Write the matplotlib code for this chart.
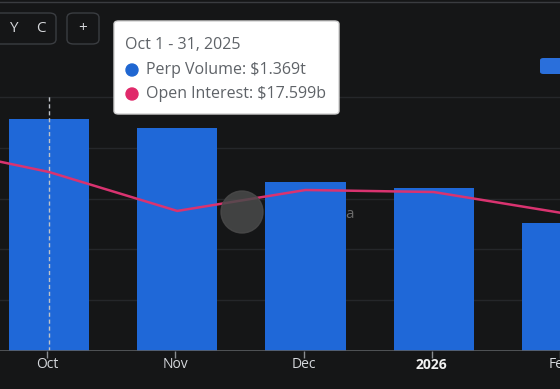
import matplotlib
matplotlib.use("Agg")
import matplotlib.pyplot as plt
import numpy as np
from matplotlib.patches import FancyBboxPatch, Ellipse

months = ["Sep", "Oct", "Nov", "Dec", "Jan", "Feb"]
perp_volume_t = [np.nan, 1.369, 1.316, 0.997, 0.962, 0.755]
open_interest_b = [20.25, 17.599, 13.77, 15.83, 15.63, 13.57]
tick_labels = ["Oct", "Nov", "Dec", "2026", "Feb"]

BG = "#151617"
BAR = "#1f68d8"
LINE = "#d93370"
GRID = "#25272a"

W, H = 560, 389
fig = plt.figure(figsize=(W / 100, H / 100), dpi=100, facecolor=BG)

def fx(px):
    return px / W

def fy(py):
    return 1 - py / H

def circle(cx, cy, r, **kw):
    return Ellipse((fx(cx), fy(cy)), 2 * r / W, 2 * r / H,
                   transform=fig.transFigure, **kw)

top_px, base_px = 80, 351
ax = fig.add_axes([0, fy(base_px), 1, (base_px - top_px) / H])
ax.set_facecolor(BG)
for s in ax.spines.values():
    s.set_visible(False)

x = np.arange(len(months)) - 1  # Oct at 0
px_per_cat = 129.5
x0_px = 49.5
ax.set_xlim(-x0_px / px_per_cat, (W - x0_px) / px_per_cat)
px_per_t = 50.8 / 0.3
ax.set_ylim(0, (base_px - top_px) / px_per_t)

# grid
for g in [0.3, 0.6, 0.9, 1.2, 1.5]:
    ax.axhline(g, color=GRID, lw=1, zorder=0)

# watermark
fig.add_artist(circle(242, 212, 21, color="#4a4a4a", alpha=0.85, zorder=0.5))
fig.text(fx(345), fy(214), "a", color="#6a6a6a", fontsize=11,
         ha="left", va="center", zorder=0.5, family="Open Sans")

ax.bar(x, perp_volume_t, width=81 / px_per_cat, color=BAR, zorder=2)

# crosshair
ax.axvline(0, ymin=0, ymax=(base_px - 95) / (base_px - top_px),
           color="#bfc3c8", lw=1, ls=(0, (3, 2)), zorder=3)

ax2 = ax.twinx()
ax2.set_ylim(0, (base_px - top_px) / (179 / 17.599))
ax2.plot(x, open_interest_b, color=LINE, lw=1.8, zorder=4)
ax2.axis("off")

# x axis
ax.axhline(0, color="#5a5d61", lw=1.2, zorder=3)
tick_pos = np.arange(len(tick_labels)) - 0.015
ax.set_xticks(tick_pos)
ax.set_xticklabels([])
ax.tick_params(axis="x", length=5, color="#8a8d91", width=1)
ax.set_yticks([])
for p, lab in zip(tick_pos, tick_labels):
    bold = lab == "2026"
    ax.text(p, -14 / px_per_t, lab, ha="center", va="center",
            color="#f2f2f2" if bold else "#d5d8dc",
            fontsize=10, fontweight="bold" if bold else "normal",
            family="Open Sans", clip_on=False)

# top line
fig.add_artist(plt.Line2D([0, 1], [fy(1.5), fy(1.5)], color="#3a3c40", lw=1))

# toolbar
fig.add_artist(FancyBboxPatch((fx(-20), fy(44)), fx(76), fy(13) - fy(44),
                              boxstyle="round,pad=0,rounding_size=0.012",
                              transform=fig.transFigure, fc=BG, ec="#3a3d41", lw=1))
fig.add_artist(FancyBboxPatch((fx(67), fy(44)), fx(32), fy(13) - fy(44),
                              boxstyle="round,pad=0,rounding_size=0.012",
                              transform=fig.transFigure, fc=BG, ec="#3a3d41", lw=1))
for px, t in [(13, "Y"), (41, "C"), (83, "+")]:
    fig.text(fx(px), fy(28), t, color="#d5d7da", fontsize=11, ha="center",
             va="center", family="Open Sans")

# legend swatch
fig.add_artist(FancyBboxPatch((fx(540), fy(74)), fx(30), fy(58) - fy(74),
                              boxstyle="round,pad=0,rounding_size=0.006",
                              transform=fig.transFigure, fc="#2a6fdb", ec="none"))

# tooltip
fig.add_artist(FancyBboxPatch((fx(114), fy(114)), fx(225), fy(21) - fy(114),
                              boxstyle="round,pad=0,rounding_size=0.008",
                              transform=fig.transFigure, fc="white",
                              ec="#d0d0d0", lw=1, zorder=10))
fig.text(fx(125), fy(45), "Oct 1 - 31, 2025", color="#5f6368", fontsize=11.5,
         ha="left", va="center", family="Open Sans", zorder=11)
vol_idx = months.index("Oct")
rows = [
    (70, "#1f66d1", f"Perp Volume: ${perp_volume_t[vol_idx]:.3f}t"),
    (94, "#e0296a", f"Open Interest: ${open_interest_b[vol_idx]:.3f}b"),
]
for py, c, t in rows:
    fig.add_artist(circle(132, py, 6, color=c, zorder=11))
    fig.text(fx(146), fy(py), t, color="#5f6368", fontsize=11.5,
             ha="left", va="center", family="Open Sans", zorder=11)

fig.savefig("out.png", dpi=100, facecolor=BG)
